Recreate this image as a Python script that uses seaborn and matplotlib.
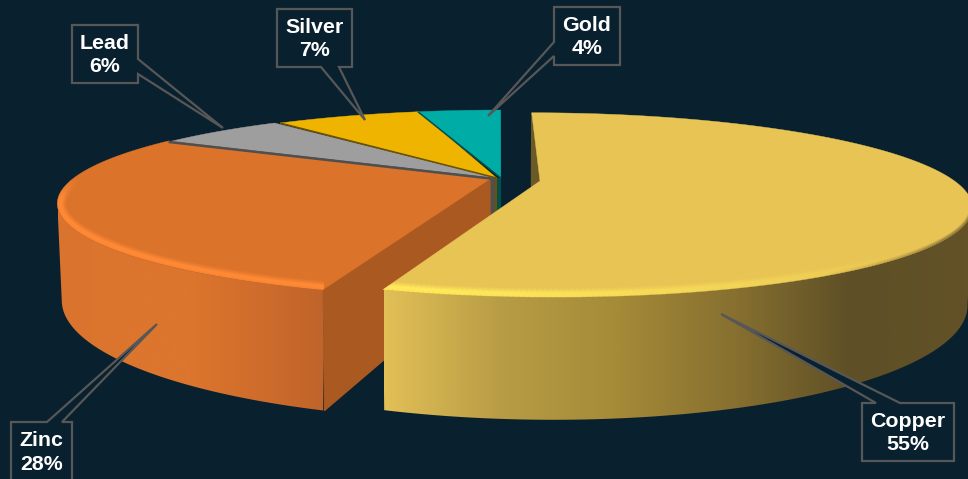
import numpy as np
import matplotlib
matplotlib.use("Agg")
import matplotlib.pyplot as plt
from matplotlib.colors import to_rgb
from matplotlib.patches import Polygon
import seaborn as sns

# Metal share of the portfolio, clockwise from twelve o'clock
metals = ["Copper", "Zinc", "Lead", "Silver", "Gold"]
shares = [55, 28, 6, 7, 4]

top_colors = sns.color_palette(["#E8C454", "#DB732B", "#9E9E9E", "#EFB400", "#00ADA6"])
edge_colors = [None, None, "#4F4F4F", "#6B5200", "#02514F"]

# Explosion of each slice on the disc: rim centre, rim radius, hub
rim_centres = [(0.095, -0.035), (-0.002, -0.004), (-0.012, 0.0), (0.004, 0.0), (0.002, 0.0)]
rim_radii = [0.985, 1.02, 1.0, 1.0, 1.0]
hubs = [(0.095, -0.035), (-0.024, -0.012), (-0.012, 0.0), (-0.008, 0.0), (0.002, 0.0)]

BG = "#09202F"
GREY = "#575757"

# Perspective camera for the disc
CX, CY = 500.0, 178.0
FX, FY = 417.0, 85.7
PERSP = 0.261
DEPTH = 90.0

# Callout boxes: (left, top, right, bottom), wedge base A, wedge tip, wedge base B
callouts = {
    "Copper": ((862, 403, 954, 461), (876, 403), (721, 314), (900, 403)),
    "Zinc": ((11, 422, 72, 481), (47, 422), (157, 324), (62, 422)),
    "Lead": ((72, 25, 138, 83), (138, 59), (223, 128), (138, 74)),
    "Silver": ((277, 9, 352, 67), (321, 67), (365, 120), (339, 67)),
    "Gold": ((554, 7, 620, 65), (554, 42), (488, 116), (554, 56)),
}


def screen(x, y, down=0.0):
    """Project disc coordinates to the screen; down runs 0..1 through the pie's thickness."""
    w = 1.0 + PERSP * y
    px = CX + FX * x / w
    py = CY - FY * y / w
    return CX + (px - CX) * (1 - 0.01 * down), py + down * DEPTH / w


def rim(i, theta, down=0.0):
    theta = np.asarray(theta, dtype=float)
    cx, cy = rim_centres[i]
    r = rim_radii[i]
    return screen(cx + r * np.sin(theta), cy + r * np.cos(theta), down)


def hub(i, down=0.0):
    return screen(hubs[i][0], hubs[i][1], down)


sns.set_theme(style="dark", rc={"axes.facecolor": BG, "figure.facecolor": BG})
plt.rcParams["font.family"] = ["Liberation Sans", "DejaVu Sans"]

fig = plt.figure(figsize=(9.68, 4.79), dpi=100)
ax = fig.add_axes([0, 0, 1, 1])
ax.set_xlim(0, 968)
ax.set_ylim(479, 0)
ax.set_autoscale_on(False)
ax.axis("off")

edges = np.cumsum([0] + shares) / sum(shares) * 2 * np.pi
starts, ends = edges[:-1], edges[1:]
COPPER, ZINC, LEAD, SILVER, GOLD = range(5)

_z = [1]


def next_z():
    _z[0] += 1
    return _z[0]


def face_outline(i):
    t = np.linspace(starts[i], ends[i], 400)
    xs, ys = rim(i, t)
    hx, hy = hub(i)
    return np.r_[hx, xs], np.r_[hy, ys]


def top_face(i):
    xs, ys = face_outline(i)
    ax.fill(xs, ys, color=top_colors[i], lw=0.3, zorder=next_z())


def outer_wall(i, stops, x0, x1):
    """Curved wall with a left-to-right gradient, clipped to the part facing the viewer."""
    t = np.linspace(starts[i], ends[i], 800)
    xt, _ = rim(i, t)
    if i == COPPER:
        t = t[np.argmax(xt):]
    else:
        t = t[:np.argmin(xt) + 1]
    xt, yt = rim(i, t)
    xb, yb = rim(i, t, 1.0)
    outline = np.c_[np.r_[xt, xb[::-1]], np.r_[yt, yb[::-1]]]
    shade = Polygon(outline, closed=True, transform=ax.transData, facecolor="none", edgecolor="none")
    ax.add_patch(shade)
    ramp_img = np.array(sns.blend_palette(stops, 512))[None, :, :]
    img = ax.imshow(ramp_img, extent=(x0, x1, 479, 0), aspect="auto", interpolation="bilinear", zorder=next_z())
    img.set_clip_path(shade)


def radial_wall(i, theta, color):
    pts = [tuple(map(float, rim(i, theta))), hub(i), hub(i, 1.0), tuple(map(float, rim(i, theta, 1.0)))]
    ax.fill(*zip(*pts), facecolor=color, edgecolor=color, lw=0.9, zorder=next_z())


def rim_band(i, color, strength, dist, weight):
    """Soft band on the top face, its opacity set by screen distance from the rim."""
    t = np.linspace(starts[i], ends[i], 360)
    rx, ry = rim(i, t)
    x0, x1 = int(max(rx.min() - 2, 0)), int(min(rx.max() + 2, 968))
    y0, y1 = int(max(ry.min() - 2, 0)), int(min(ry.max() + 2, 479))
    gx = np.arange(x0, x1) + 0.5
    alpha = np.zeros((y1 - y0, x1 - x0))
    gain = strength(t)
    for row, yy in enumerate(np.arange(y0, y1) + 0.5):
        d2 = (gx[:, None] - rx[None, :]) ** 2 + (yy - ry[None, :]) ** 2
        near = d2.argmin(axis=1)
        d = np.sqrt(d2[np.arange(gx.size), near])
        alpha[row] = gain[near] * np.interp(d, dist, weight, right=0.0)
    rgba = np.zeros(alpha.shape + (4,))
    rgba[..., :3] = to_rgb(color)
    rgba[..., 3] = alpha
    xs, ys = face_outline(i)
    clip = Polygon(np.c_[xs, ys], closed=True, transform=ax.transData, facecolor="none", edgecolor="none")
    ax.add_patch(clip)
    img = ax.imshow(rgba, extent=(x0, x1, y1, y0), aspect="auto", interpolation="bilinear", zorder=next_z())
    img.set_clip_path(clip)


def ramp(a, b, lo, hi):
    """Opacity per rim angle: fades in over lo..a degrees, out over b..hi degrees."""
    def f(t):
        deg = np.degrees(t)
        return np.clip((deg - lo) / max(a - lo, 1e-6), 0, 1) * np.clip((hi - deg) / max(hi - b, 1e-6), 0, 1)
    return f


glow_dist = [0.0, 1.0, 2.5, 4.5, 7.0, 9.5]
glow_weight = [0.55, 0.85, 1.0, 1.0, 0.45, 0.0]
soft_dist = [0.0, 1.5, 3.5]
soft_weight = [0.85, 0.45, 0.0]

# Centre post seen through the gap between the slices
strip_pairs = [(ZINC, LEAD), (LEAD, SILVER), (SILVER, GOLD)]
strip_cols = [edge_colors[LEAD], edge_colors[SILVER], edge_colors[GOLD]]
for (a, b), c in zip(strip_pairs, strip_cols):
    xa, ya = hub(a)
    xb, yb = hub(b)
    ax.fill([xa, xb, xb, xa], [ya, yb, yb + DEPTH, ya + DEPTH], color=c, lw=0, zorder=next_z())

# Back slices are flat: only their top faces show
for i in [LEAD, SILVER, GOLD]:
    top_face(i)
for i in [SILVER, GOLD]:
    xe, ye = rim(i, starts[i])
    hx, hy = hub(i)
    ax.plot([hx, float(xe)], [hy, float(ye)], color=edge_colors[i], lw=1.1, zorder=next_z(), solid_capstyle="butt")

# Zinc slice
zinc_stops = ["#DA732D", "#DC752D", "#DC752D", "#D06D2C", "#BF642A"]
radial_wall(ZINC, starts[ZINC], "#AA5921")
outer_wall(ZINC, zinc_stops, 58, 323)
top_face(ZINC)
rim_band(ZINC, "#FF8A35", ramp(198, 258, 197, 272), glow_dist, glow_weight)
xe, ye = rim(ZINC, ends[ZINC])
hx, hy = hub(LEAD)
ax.plot([hx, float(xe)], [hy + 1, float(ye) + 1], color=edge_colors[LEAD], lw=1.8, zorder=next_z(), solid_capstyle="butt")

# Copper slice sits nearest the viewer, pulled out of the pie
copper_stops = ["#E2C057", "#B89C45", "#A58A38", "#877030", "#5E4F26", "#635228"]
radial_wall(COPPER, starts[COPPER], "#6B5A28")
outer_wall(COPPER, copper_stops, 384, 968)
top_face(COPPER)
rim_band(COPPER, "#FFE85A", ramp(190, 198, 135, 199), glow_dist, glow_weight)
rim_band(COPPER, "#64532A", ramp(112, 125, 100, 150), soft_dist, soft_weight)

# Callout boxes and their labels
for name, share in zip(metals, shares):
    (x0, y0, x1, y1), base_a, tip, base_b = callouts[name]
    if base_a[1] == y0 and base_b[1] == y0:
        outline = [(x0, y0), base_a, tip, base_b, (x1, y0), (x1, y1), (x0, y1)]
    elif base_a[1] == y1 and base_b[1] == y1:
        outline = [(x0, y0), (x1, y0), (x1, y1), base_b, tip, base_a, (x0, y1)]
    elif base_a[0] == x1:
        outline = [(x0, y0), (x1, y0), base_a, tip, base_b, (x1, y1), (x0, y1)]
    else:
        outline = [(x0, y0), (x1, y0), (x1, y1), (x0, y1), base_b, tip, base_a]
    ax.fill(*zip(*outline), facecolor=BG, edgecolor=GREY, lw=1.6, joinstyle="miter", zorder=next_z())
    ax.text((x0 + x1) / 2, (y0 + y1) / 2 + 1, f"{name}\n{share}%", color="white", fontsize=15.4,
            fontweight="bold", ha="center", va="center", linespacing=1.33, zorder=next_z())

fig.savefig("out.png", dpi=100, facecolor=BG)
